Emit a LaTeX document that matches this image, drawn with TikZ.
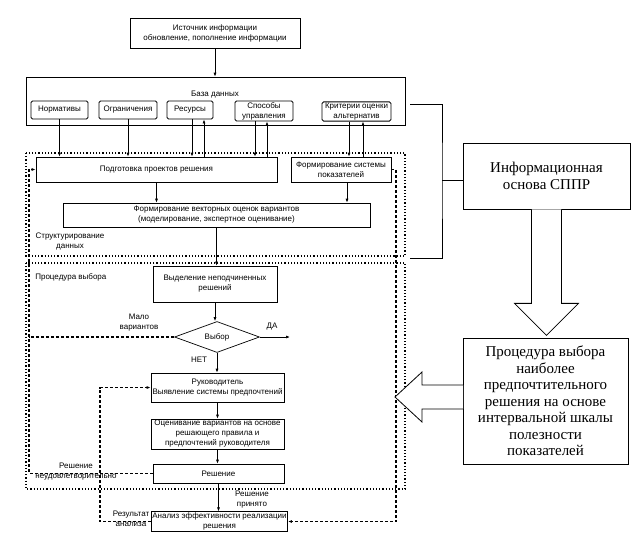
\documentclass[tikz,border=0pt]{standalone}
\usepackage{fontspec}
\setmainfont{Liberation Sans}
\newfontfamily\infofont{Liberation Serif}
\usetikzlibrary{arrows.meta, shapes.geometric}

\begin{document}
\begin{tikzpicture}[
    x=1pt, y=-1pt, ->, >={Latex[length=4pt, width=3pt]}, line width=0.7pt,
    every node/.style={align=center, font=\fontsize{8}{10}\selectfont, inner sep=1pt},
    box/.style={draw, rectangle},
    dbitem/.style={draw, rectangle, rounded corners=1.5pt, line width=0.9pt},
    zone/.style={-, dotted, line width=1.2pt},
    feedback/.style={densely dashed, line width=1.1pt},
    infobox/.style={draw, rectangle, font=\infofont\fontsize{15}{16.5}\selectfont},
    hollow/.style={-, draw, fill=white, line width=0.8pt}
]
\useasboundingbox (0,0) rectangle (642,544);
\node (source_info) [box, minimum width=170, minimum height=30] at (215,33) {Источник информации\\обновление, пополнение информации};
\node (data_base) [box, minimum width=379, minimum height=48] at (215.5,101) {};
\node (data_base_label) at (215,95) {База данных};
\node (norms) [dbitem, minimum width=57, minimum height=18] at (59.5,110) {Нормативы};
\node (limits) [dbitem, minimum width=58, minimum height=18] at (128,110) {Ограничения};
\node (resources) [dbitem, minimum width=46, minimum height=18] at (190,110) {Ресурсы};
\node (control_ways) [dbitem, minimum width=58, minimum height=20] at (264,111) {Способы\\управления};
\node (criteria) [dbitem, minimum width=69, minimum height=19] at (356.5,111.5) {Критерии оценки\\альтернатив};
\draw[zone] (26,153) rectangle (405,256);
\draw[zone] (26,263) rectangle (405,489);
\node (prep_projects) [box, minimum width=241, minimum height=25] at (156.5,169.5) {Подготовка проектов решения};
\node (index_system) [box, minimum width=100, minimum height=25] at (341,169.5) {Формирование системы\\показателей};
\node (vector_scores) [box, minimum width=307, minimum height=24] at (216.5,215) {Формирование векторных оценок вариантов\\(моделирование, экспертное оценивание)};
\node (structuring_label) at (70,241) {Структурирование\\данных};
\node (choice_label) [anchor=west] at (34,277) {Процедура выбора};
\node (non_dominated) [box, minimum width=124, minimum height=36] at (215,284) {Выделение неподчиненных\\решений};
\node (choice) [draw, diamond, aspect=2.7, minimum width=85, minimum height=31, inner sep=0pt] at (217,337) {Выбор};
\coordinate (yes_end) at (290,337);
\node (yes_label) at (272,327) {ДА};
\node (few_label) at (139,323) {Мало\\вариантов};
\node (no_label) at (199,360) {НЕТ};
\node (manager) [box, minimum width=133, minimum height=29] at (217.5,387.5) {Руководитель\\Выявление системы предпочтений};
\node (evaluation) [box, minimum width=133, minimum height=30] at (217.5,434) {Оценивание вариантов на основе\\решающего правила и\\предпочтений руководителя};
\node (decision) [box, minimum width=131, minimum height=19] at (218.5,473.5) {Решение};
\node (analysis) [box, minimum width=133, minimum height=19] at (219.5,521.5) {Анализ эффективности реализации\\решения};
\node (dissatisfied_label) at (76,472) {Решение\\неудовлетворительно};
\node (accepted_label) at (252,500) {Решение\\принято};
\node (result_label) at (131,519) {Результат\\анализа};
\node (info_base) [infobox, minimum width=167, minimum height=66] at (546.5,176) {Информационная\\основа СППР};
\node (choice_proc) [infobox, minimum width=165, minimum height=126] at (545.5,401) {Процедура выбора\\наиболее\\предпочтительного\\решения на основе\\интервальной шкалы\\полезности\\показателей};
\coordinate (left_rail) at (29,0);
\coordinate (mid_rail) at (100,0);
\coordinate (right_rail) at (396,0);
\coordinate (bracket_mid) at (442,180);
\coordinate (left_arrow) at (463,397);
\draw (source_info.south) -- (source_info.south |- data_base.north);
\draw (norms.south) -- (norms.south |- prep_projects.north);
\draw (limits.south) -- (limits.south |- prep_projects.north);
\draw ([xshift=2pt]resources.south) -- ([xshift=2pt]resources.south |- prep_projects.north);
\draw ([xshift=14pt]resources.south |- prep_projects.north) -- ([xshift=14pt]resources.south);
\draw ([xshift=-9pt]control_ways.south) -- ([xshift=-9pt]control_ways.south |- prep_projects.north);
\draw ([xshift=3pt]control_ways.south |- prep_projects.north) -- ([xshift=3pt]control_ways.south);
\draw ([xshift=-7.5pt]criteria.south) -- ([xshift=-7.5pt]criteria.south |- index_system.north);
\draw ([xshift=6.5pt]criteria.south |- index_system.north) -- ([xshift=6.5pt]criteria.south);
\draw (prep_projects.south) -- (prep_projects.south |- vector_scores.north);
\draw ([xshift=6pt]index_system.south) -- ([xshift=6pt]index_system.south |- vector_scores.north);
\draw (vector_scores.south) -- (vector_scores.south |- non_dominated.north);
\draw (non_dominated.south) -- (non_dominated.south |- choice.north);
\draw (choice.east) -- (yes_end);
\draw (choice.south) -- (choice.south |- manager.north);
\draw (manager.south) -- (manager.south |- evaluation.north);
\draw (evaluation.south) -- (evaluation.south |- decision.north);
\draw (decision.south) -- (decision.south |- analysis.north);
\draw[feedback] (decision.west) -- (decision.west -| left_rail) |- (prep_projects.west);
\draw[feedback, -] (choice.west) -- (choice.west -| left_rail);
\draw[feedback] (analysis.west) -- (analysis.west -| mid_rail) |- (manager.west);
\draw[feedback] (index_system.east) -- (index_system.east -| right_rail) |- (analysis.east);
\draw[-] (410,104) -| (bracket_mid) |- (410,258);
\draw[-] (bracket_mid) -- (bracket_mid -| info_base.west);
\draw[hollow] ([xshift=-15pt]info_base.south) -- ++(0,94) -- ++(-17,0) -- ++(32,32) -- ++(32,-32) -- ++(-17,0) -- ([xshift=15pt]info_base.south);
\draw[hollow] (left_arrow) ++(0,-12) -- ++(-41,0) -- ++(0,-13) -- ++(-27,25) -- ++(27,25) -- ++(0,-13) -- ++(41,0);
\end{tikzpicture}
\end{document}
